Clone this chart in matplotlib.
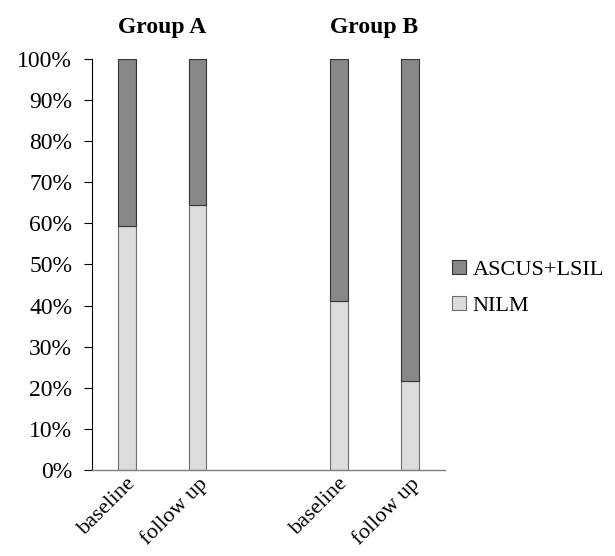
import matplotlib.pyplot as plt
from matplotlib.patches import Patch

plt.rcParams['font.family'] = ['Liberation Serif', 'DejaVu Serif']

labels = ["baseline", "follow up", "baseline", "follow up"]
groups = ["Group A", "Group B"]
nilm = [59.4, 64.5, 41.2, 21.7]
ascus = [100 - v for v in nilm]
pos = [0, 1, 3, 4]

light = '#dcdcdc'
dark = '#878787'

fig = plt.figure(figsize=(6.15, 5.56), dpi=100)
ax = fig.add_axes([0.149, 0.1547, 0.5746, 0.7393])

ax.bar(pos, nilm, width=0.25, color=light, edgecolor='#6e6e6e', linewidth=0.8)
ax.bar(pos, ascus, width=0.25, bottom=nilm, color=dark, edgecolor='#333333', linewidth=0.8)

ax.set_xlim(-0.5, 4.5)
ax.set_ylim(0, 100)
ax.set_yticks(range(0, 101, 10))
ax.set_yticklabels([f"{v}%" for v in range(0, 101, 10)], fontsize=17)
ax.set_xticks(pos)
ax.set_xticklabels(labels, rotation=45, ha='right', rotation_mode='anchor', fontsize=16)
ax.tick_params(axis='x', length=0, pad=3)
ax.tick_params(axis='y', length=6, width=0.8, pad=8)

for s in ['top', 'right']:
    ax.spines[s].set_visible(False)
ax.spines['left'].set_linewidth(0.8)
ax.spines['bottom'].set_color('#7f7f7f')
ax.spines['bottom'].set_linewidth(1.0)

# group titles above the bar pairs
tr = ax.get_xaxis_transform()
ax.text(0.5, 1.077, groups[0], transform=tr, ha='center', va='center', fontsize=17, fontweight='bold')
ax.text(3.5, 1.077, groups[1], transform=tr, ha='center', va='center', fontsize=17, fontweight='bold')

handles = [Patch(facecolor=dark, edgecolor='#333333', linewidth=0.8, label='ASCUS+LSIL'),
           Patch(facecolor=light, edgecolor='#6e6e6e', linewidth=0.8, label='NILM')]
fig.legend(handles=handles, loc='center left', bbox_to_anchor=(0.703, 0.482), frameon=False,
           fontsize=16, handlelength=0.6, handleheight=0.6, handletextpad=0.3, labelspacing=0.75)

fig.savefig('out.png', dpi=100)
